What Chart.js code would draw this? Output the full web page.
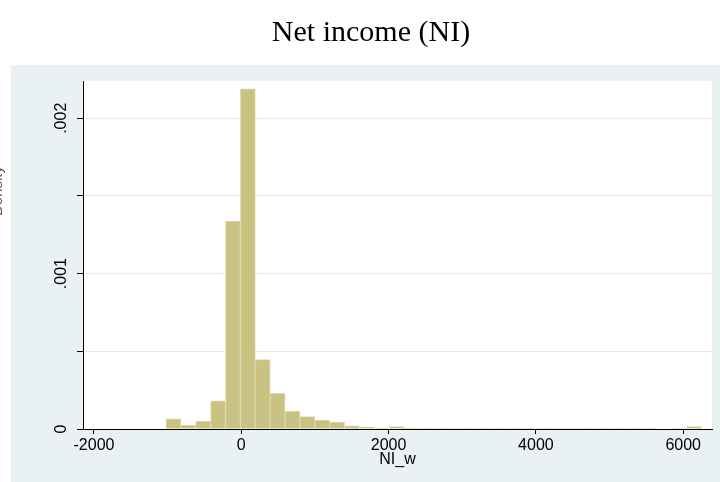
<!DOCTYPE html>
<html>
<head>
<meta charset="utf-8">
<script src="https://cdn.jsdelivr.net/npm/chart.js@4/dist/chart.umd.min.js"></script>
<style>
  html, body { margin: 0; padding: 0; background: #ffffff; }
  #wrap { width: 720px; height: 482px; }
</style>
</head>
<body>
<div id="wrap"><canvas id="c" width="720" height="482"></canvas></div>
<script>
// Histogram of winsorized net income: 36 equal-width bins
const binStart = -1022;
const binWidth = 202;
const densities = [
  0.000065, 0.000024, 0.000050, 0.000181, 0.001338, 0.002189,
  0.000447, 0.000230, 0.000114, 0.000080, 0.000058, 0.000045,
  0.000020, 0.000013, 0.000005, 0.000015, 0.000005, 0.000005,
  0.000005, 0.000004, 0.000002, 0.000002, 0.000002, 0.000002,
  0.000002, 0.000002, 0.000002, 0.000002, 0.000002, 0.000002,
  0.000002, 0.000002, 0.000002, 0.000000, 0.000002, 0.000015
];
const xTicks = [-2000, 0, 2000, 4000, 6000];
const yTicks = [0, 0.0005, 0.001, 0.0015, 0.002];
const yTickLabels = { 0: '0', 0.001: '.001', 0.002: '.002' };

const chartTitle = 'Net income (NI)';
const xTitle = 'NI_w';
const yTitle = 'Density';

const points = densities.map((d, i) => ({ x: binStart + binWidth * (i + 0.5), y: d }));

const sansFont = '"Liberation Sans", Arial, sans-serif';
const serifFont = '"Liberation Serif", "Times New Roman", serif';

// Page backgrounds, the outer title and the clipped y title
const backdrop = {
  id: 'backdrop',
  beforeDraw(chart) {
    const { ctx, chartArea: a } = chart;
    ctx.save();
    ctx.fillStyle = '#ffffff';
    ctx.fillRect(0, 0, chart.width, chart.height);
    ctx.fillStyle = '#EAF1F3';
    ctx.fillRect(11, 65, chart.width - 11, chart.height - 65);
    ctx.fillStyle = '#ffffff';
    ctx.fillRect(a.left, a.top, a.right - a.left, a.bottom - a.top);
    ctx.restore();
  },
  afterDraw(chart) {
    const { ctx } = chart;
    ctx.save();
    ctx.fillStyle = '#000000';
    ctx.font = '30px ' + serifFont;
    ctx.textAlign = 'center';
    ctx.textBaseline = 'middle';
    ctx.fillText(chartTitle, 371, 33);
    ctx.translate(2, 191);
    ctx.rotate(-Math.PI / 2);
    ctx.font = '15px ' + sansFont;
    ctx.textAlign = 'center';
    ctx.textBaseline = 'alphabetic';
    ctx.fillStyle = '#555555';
    ctx.fillText(yTitle, 0, 0);
    ctx.restore();
  }
};

new Chart(document.getElementById('c'), {
  type: 'bar',
  data: {
    datasets: [{
      data: points,
      backgroundColor: '#CAC283',
      borderColor: '#DCD7A6',
      borderWidth: 1,
      barPercentage: 1,
      categoryPercentage: 1,
      grouped: false
    }]
  },
  options: {
    responsive: false,
    animation: false,
    events: [],
    layout: { padding: { left: 11, right: 8, top: 81, bottom: 0 } },
    plugins: { legend: { display: false }, tooltip: { enabled: false }, title: { display: false } },
    scales: {
      x: {
        type: 'linear',
        min: -2149,
        max: 6391,
        offset: false,
        z: 1,
        afterBuildTicks(scale) { scale.ticks = xTicks.map(v => ({ value: v })); },
        afterFit(scale) { scale.height = 53; },
        grid: { offset: false, drawOnChartArea: false, drawTicks: true, tickLength: 5, tickColor: '#000000', tickWidth: 1 },
        border: { display: true, color: '#000000', width: 1 },
        ticks: {
          color: '#000000',
          font: { family: sansFont, size: 16 },
          padding: 2,
          maxRotation: 0,
          autoSkip: false,
          callback: v => String(v)
        },
        title: {
          display: true,
          text: xTitle,
          color: '#000000',
          font: { family: sansFont, size: 16 },
          padding: { top: 0, bottom: 13 }
        }
      },
      y: {
        min: 0,
        max: 0.00224,
        afterBuildTicks(scale) { scale.ticks = yTicks.map(v => ({ value: v })); },
        afterFit(scale) { scale.width = 72; },
        grid: {
          drawOnChartArea: true,
          color: ctx => (ctx.tick && ctx.tick.value === 0) ? 'rgba(0,0,0,0)' : '#E2EAED',
          lineWidth: 1,
          drawTicks: true,
          tickLength: 6,
          tickColor: '#000000',
          tickWidth: 1
        },
        border: { display: true, color: '#000000', width: 1 },
        ticks: {
          color: '#000000',
          font: { family: sansFont, size: 16 },
          padding: 0,
          minRotation: 90,
          maxRotation: 90,
          crossAlign: 'center',
          autoSkip: false,
          callback: v => (yTickLabels[v] !== undefined ? yTickLabels[v] : '')
        }
      }
    }
  },
  plugins: [backdrop]
});
</script>
</body>
</html>
